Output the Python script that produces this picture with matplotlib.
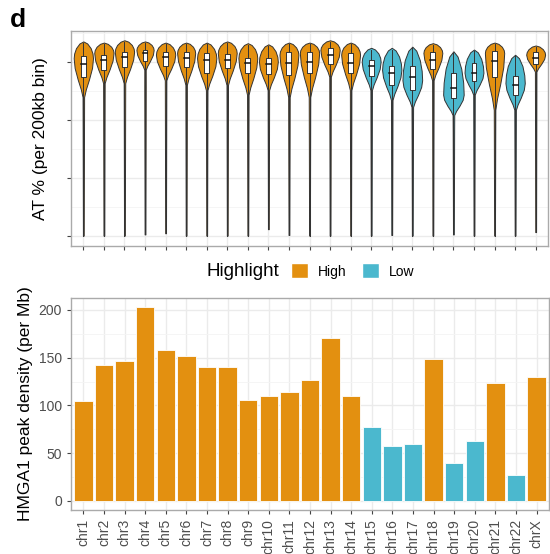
import numpy as np
import matplotlib.pyplot as plt
from matplotlib.patches import Patch

plt.rcParams['font.family'] = ['Liberation Sans', 'DejaVu Sans']

chroms = ['chr1', 'chr2', 'chr3', 'chr4', 'chr5', 'chr6', 'chr7', 'chr8', 'chr9', 'chr10',
          'chr11', 'chr12', 'chr13', 'chr14', 'chr15', 'chr16', 'chr17', 'chr18', 'chr19',
          'chr20', 'chr21', 'chr22', 'chrX']
highlight = ['High'] * 14 + ['Low', 'Low', 'Low', 'High', 'Low', 'Low', 'High', 'Low', 'High']

# HMGA1 peak density (per Mb)
density = [105, 142, 147, 203, 158, 152, 140, 140, 106, 110, 114, 127, 171, 110,
           77, 57, 60, 149, 40, 63, 123, 27, 130]

# AT % violin summary per chromosome
at_top = [63.5, 63.3, 63.7, 63.5, 63.3, 63.3, 63.3, 63.5, 63.2, 63.0, 63.3, 63.3,
          63.7, 63.3, 62.4, 62.4, 62.6, 63.2, 61.8, 62.1, 63.3, 61.2, 62.8]
at_peak = [60.6, 61.5, 61.7, 62.0, 61.2, 61.5, 60.6, 61.5, 60.6, 60.0, 61.2, 61.5,
           62.0, 61.2, 60.0, 58.6, 56.8, 61.5, 54.3, 58.1, 61.5, 56.3, 61.2]
at_neck = [53.9, 56.3, 56.3, 58.6, 56.8, 56.0, 55.1, 56.0, 54.3, 55.1, 53.9, 53.9,
           57.4, 55.1, 55.1, 53.4, 52.2, 56.8, 50.8, 54.3, 51.7, 51.7, 58.3]
at_min = [30.0, 30.0, 30.0, 30.2, 30.4, 30.0, 30.0, 30.0, 30.0, 31.1, 30.1, 30.0,
          30.0, 30.0, 30.0, 30.1, 30.0, 30.0, 30.2, 30.0, 30.0, 30.0, 30.6]
at_q3 = [61.0, 61.2, 61.6, 62.1, 61.7, 61.6, 61.5, 61.3, 60.7, 60.6, 61.6, 61.6,
         62.3, 61.5, 60.3, 59.3, 59.3, 61.6, 58.0, 59.8, 61.8, 57.5, 61.6]
at_med = [59.6, 60.3, 60.8, 61.5, 60.8, 60.6, 60.3, 60.3, 59.8, 59.6, 59.8, 60.0,
          61.2, 59.8, 59.3, 58.1, 57.4, 60.3, 55.4, 58.1, 60.1, 56.0, 60.6]
at_q1 = [57.4, 58.6, 59.1, 60.1, 59.3, 59.1, 58.1, 58.9, 58.0, 57.9, 57.7, 58.1,
         59.6, 58.1, 57.5, 56.0, 55.2, 58.7, 53.7, 56.6, 57.4, 54.3, 59.6]
at_halfw = [0.47, 0.47, 0.47, 0.42, 0.47, 0.44, 0.47, 0.46, 0.46, 0.46, 0.46, 0.47,
            0.47, 0.46, 0.46, 0.47, 0.48, 0.46, 0.5, 0.46, 0.47, 0.47, 0.46]

colors = {'High': '#E39010', 'Low': '#4BB8CE'}
x = np.arange(len(chroms))
fill = [colors[h] for h in highlight]

fig = plt.figure(figsize=(5.5, 5.54), dpi=100)
ax1 = fig.add_axes([71 / 550, 1 - 246 / 554, 477 / 550, 215 / 554])
ax2 = fig.add_axes([71 / 550, 1 - 510 / 554, 478 / 550, 212 / 554])

for ax in (ax1, ax2):
    ax.set_axisbelow(True)
    for s in ax.spines.values():
        s.set_color('#AAAAAA')
        s.set_linewidth(1.0)
    ax.grid(True, which='major', color='#EBEBEB', lw=1.0)
    ax.grid(True, which='minor', axis='y', color='#F4F4F4', lw=0.6)
    ax.tick_params(axis='both', colors='#444444', labelcolor='#4D4D4D', labelsize=10,
                   length=3, width=0.8)
    ax.tick_params(which='minor', length=0)
    ax.set_xlim(-0.6, len(chroms) - 0.4)
    ax.set_xticks(x)

# violin outline shape: (fraction along segment, fraction of half-width)
top_part = [(0.0, 0.0), (0.12, 0.4), (0.4, 0.76), (0.72, 0.95), (1.0, 1.0)]
low_part = [(0.25, 0.9), (0.55, 0.58), (0.8, 0.26), (1.0, 0.08)]

for i in range(len(chroms)):
    w = at_halfw[i]
    ys, ws = [], []
    for f, k in top_part:
        ys.append(at_top[i] - f * (at_top[i] - at_peak[i]))
        ws.append(k * w)
    for f, k in low_part:
        ys.append(at_peak[i] - f * (at_peak[i] - at_neck[i]))
        ws.append(k * w)
    ys += [at_neck[i] - 3, at_min[i]]
    ws += [0.035, 0.02]
    ax1.fill_betweenx(ys, [x[i] - v for v in ws], [x[i] + v for v in ws],
                      facecolor=fill[i], edgecolor='#333333', lw=0.7, zorder=2)
    ax1.plot([x[i], x[i]], [at_min[i], at_top[i] - 0.3], color='#333333', lw=0.7, zorder=3)
    bw = 0.12
    ax1.fill_between([x[i] - bw, x[i] + bw], at_q1[i], at_q3[i], facecolor='white',
                     edgecolor='#333333', lw=0.7, zorder=4)
    ax1.plot([x[i] - bw, x[i] + bw], [at_med[i], at_med[i]], color='#111111', lw=1.1, zorder=5)

ax1.set_ylim(28.2, 65.3)
ax1.set_yticks([30, 40, 50, 60])
ax1.set_yticks([35, 45, 55, 65], minor=True)
ax1.set_yticklabels([])
ax1.set_xticklabels([])
ax1.set_ylabel('AT % (per 200kb bin)', fontsize=12.5, labelpad=10)

# bars
ax2.bar(x, density, width=0.9, color=fill, edgecolor='white', linewidth=0.6, zorder=2)
ax2.set_ylim(-9.5, 212.5)
ax2.set_yticks([0, 50, 100, 150, 200])
ax2.set_yticks([25, 75, 125, 175], minor=True)
ax2.set_xticklabels(chroms, rotation=90)
ax2.set_ylabel('HMGA1 peak density (per Mb)', fontsize=12.5, labelpad=4)

# legend
fig.text(206 / 550, 1 - 271 / 554, 'Highlight', fontsize=13.5, va='center', ha='left')
handles = [Patch(facecolor=colors['High'], edgecolor='white'),
           Patch(facecolor=colors['Low'], edgecolor='white')]
fig.legend(handles, ['High', 'Low'], ncol=2, loc='center left',
           bbox_to_anchor=(281 / 550, 1 - 271 / 554), frameon=False, fontsize=10,
           handlelength=1.25, handleheight=1.25, handletextpad=0.7, columnspacing=1.1,
           borderpad=0.2)

fig.text(10 / 550, 1 - 20 / 554, 'd', fontsize=19, fontweight='bold', va='center')

fig.savefig('out.png', dpi=100)
